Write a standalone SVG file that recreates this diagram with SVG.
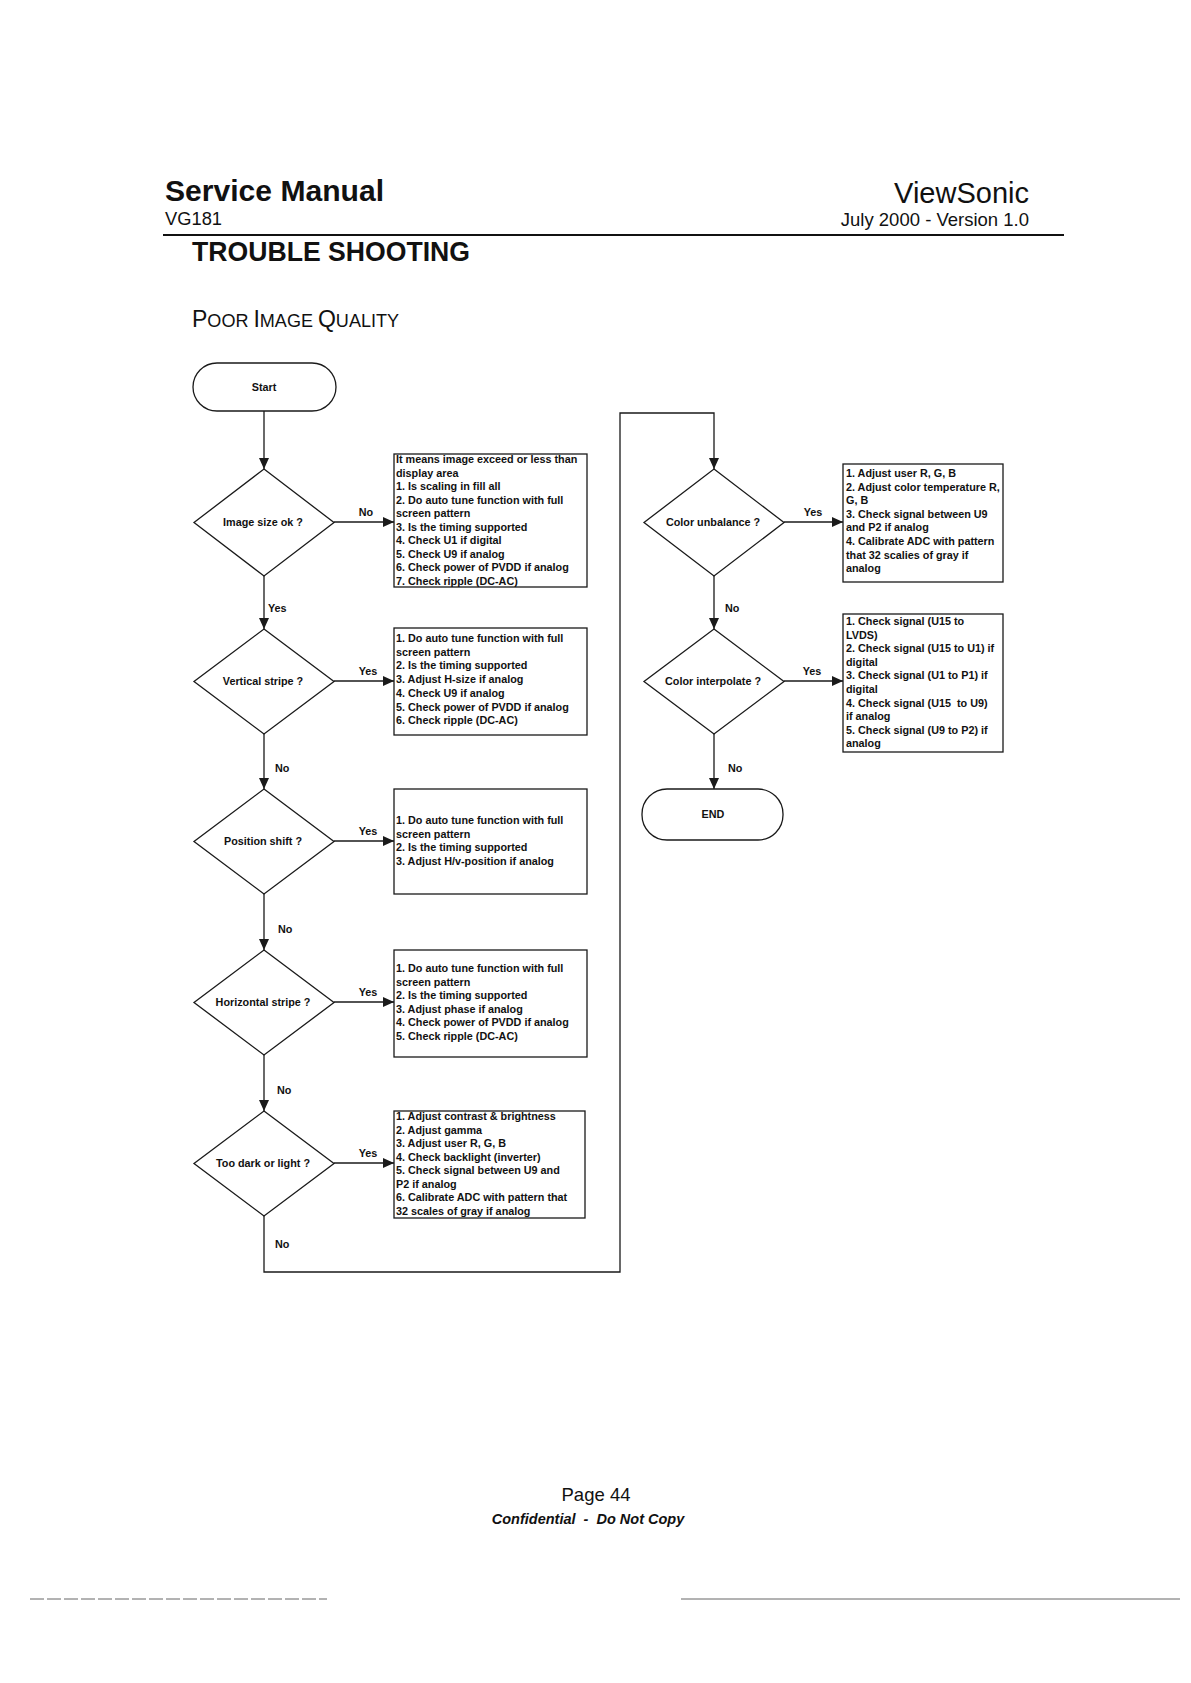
<svg xmlns="http://www.w3.org/2000/svg" width="1191" height="1683" viewBox="0 0 1191 1683">
<style>
.bg{fill:#ffffff}
.ln{fill:none;stroke:#1a1a1a;stroke-width:1.3}
.shape{fill:#ffffff;stroke:#1a1a1a;stroke-width:1.3}
.box{fill:#ffffff;stroke:#1a1a1a;stroke-width:1.3}
.t{font-family:"Liberation Sans",Arial,sans-serif;font-weight:bold;font-size:10.8px;fill:#111}
.c{text-anchor:middle}
.lbl{font-family:"Liberation Sans",Arial,sans-serif;font-weight:bold;font-size:10.8px;fill:#111}
.hdr{font-family:"Liberation Sans",Arial,sans-serif;fill:#111}
</style>
<defs>
<marker id="ah" markerUnits="userSpaceOnUse" markerWidth="12" markerHeight="10" refX="11" refY="5" orient="auto">
<path d="M0,0 L11,5 L0,10 z" fill="#1a1a1a"/>
</marker>
</defs>
<rect class="bg" x="0" y="0" width="1191" height="1683"/>

<g id="header">
<text class="hdr" x="165" y="201" font-size="30" font-weight="bold" textLength="219" lengthAdjust="spacingAndGlyphs">Service Manual</text>
<text class="hdr" x="165" y="225" font-size="18" textLength="57" lengthAdjust="spacingAndGlyphs">VG181</text>
<text class="hdr" x="1029" y="203" font-size="29" text-anchor="end">ViewSonic</text>
<text class="hdr" x="1029" y="226" font-size="18.5" text-anchor="end">July 2000 - Version 1.0</text>
<line x1="163" y1="235" x2="1064" y2="235" stroke="#111" stroke-width="2"/>
<text class="hdr" x="192" y="261" font-size="28" font-weight="bold" textLength="278" lengthAdjust="spacingAndGlyphs">TROUBLE SHOOTING</text>
<text class="hdr" x="192" y="327" font-size="18" textLength="207" lengthAdjust="spacingAndGlyphs"><tspan font-size="23">P</tspan>OOR <tspan font-size="23">I</tspan>MAGE <tspan font-size="23">Q</tspan>UALITY</text>
</g>

<g id="connectors">
<line class="ln" x1="264" y1="411" x2="264" y2="469" marker-end="url(#ah)"/>
<line class="ln" x1="264" y1="576" x2="264" y2="629" marker-end="url(#ah)"/>
<line class="ln" x1="264" y1="734" x2="264" y2="789" marker-end="url(#ah)"/>
<line class="ln" x1="264" y1="894" x2="264" y2="950" marker-end="url(#ah)"/>
<line class="ln" x1="264" y1="1055" x2="264" y2="1111" marker-end="url(#ah)"/>
<polyline class="ln" points="264,1216 264,1272 620,1272 620,413 714,413 714,469" marker-end="url(#ah)"/>
<line class="ln" x1="714" y1="576" x2="714" y2="629" marker-end="url(#ah)"/>
<line class="ln" x1="714" y1="734" x2="714" y2="789" marker-end="url(#ah)"/>
<line class="ln" x1="334" y1="522" x2="394" y2="522" marker-end="url(#ah)"/>
<line class="ln" x1="334" y1="681" x2="394" y2="681" marker-end="url(#ah)"/>
<line class="ln" x1="334" y1="841" x2="394" y2="841" marker-end="url(#ah)"/>
<line class="ln" x1="334" y1="1002" x2="394" y2="1002" marker-end="url(#ah)"/>
<line class="ln" x1="334" y1="1163" x2="394" y2="1163" marker-end="url(#ah)"/>
<line class="ln" x1="784" y1="522" x2="843" y2="522" marker-end="url(#ah)"/>
<line class="ln" x1="784" y1="681" x2="843" y2="681" marker-end="url(#ah)"/>
<text class="lbl" x="366" y="516" text-anchor="middle">No</text>
<text class="lbl" x="368" y="675" text-anchor="middle">Yes</text>
<text class="lbl" x="368" y="835" text-anchor="middle">Yes</text>
<text class="lbl" x="368" y="996" text-anchor="middle">Yes</text>
<text class="lbl" x="368" y="1157" text-anchor="middle">Yes</text>
<text class="lbl" x="813" y="516" text-anchor="middle">Yes</text>
<text class="lbl" x="812" y="675" text-anchor="middle">Yes</text>
<text class="lbl" x="268" y="612">Yes</text>
<text class="lbl" x="275" y="772">No</text>
<text class="lbl" x="278" y="933">No</text>
<text class="lbl" x="277" y="1094">No</text>
<text class="lbl" x="275" y="1248">No</text>
<text class="lbl" x="725" y="612">No</text>
<text class="lbl" x="728" y="772">No</text>
</g>

<g id="start">
<rect class="shape" x="193" y="363" width="143" height="48" rx="24" ry="24"/>
<text class="t c" x="264" y="391">Start</text>
</g>

<g id="d1">
<polygon class="shape" points="264,469 334,522.5 264,576 194,522.5"/>
<text class="t c" x="263" y="526">Image size ok ?</text>
</g>
<g id="box1">
<rect class="box" x="394" y="454" width="193" height="133"/>
<text class="t" x="396" y="463">It means image exceed or less than</text>
<text class="t" x="396" y="476.5">display area</text>
<text class="t" x="396" y="490">1. Is scaling in fill all</text>
<text class="t" x="396" y="503.5">2. Do auto tune function with full</text>
<text class="t" x="396" y="517">screen pattern</text>
<text class="t" x="396" y="530.5">3. Is the timing supported</text>
<text class="t" x="396" y="544">4. Check U1 if digital</text>
<text class="t" x="396" y="557.5">5. Check U9 if analog</text>
<text class="t" x="396" y="571">6. Check power of PVDD if analog</text>
<text class="t" x="396" y="584.5">7. Check ripple (DC-AC)</text>
</g>

<g id="d2">
<polygon class="shape" points="264,629 334,681.5 264,734 194,681.5"/>
<text class="t c" x="263" y="685">Vertical stripe ?</text>
</g>
<g id="box2">
<rect class="box" x="394" y="628" width="193" height="107"/>
<text class="t" x="396" y="642">1. Do auto tune function with full</text>
<text class="t" x="396" y="655.7">screen pattern</text>
<text class="t" x="396" y="669.4">2. Is the timing supported</text>
<text class="t" x="396" y="683.1">3. Adjust H-size if analog</text>
<text class="t" x="396" y="696.8">4. Check U9 if analog</text>
<text class="t" x="396" y="710.5">5. Check power of PVDD if analog</text>
<text class="t" x="396" y="724.2">6. Check ripple (DC-AC)</text>
</g>

<g id="d3">
<polygon class="shape" points="264,789 334,841.5 264,894 194,841.5"/>
<text class="t c" x="263" y="845">Position shift ?</text>
</g>
<g id="box3">
<rect class="box" x="394" y="789" width="193" height="105"/>
<text class="t" x="396" y="824">1. Do auto tune function with full</text>
<text class="t" x="396" y="837.7">screen pattern</text>
<text class="t" x="396" y="851.4">2. Is the timing supported</text>
<text class="t" x="396" y="865.1">3. Adjust H/v-position if analog</text>
</g>

<g id="d4">
<polygon class="shape" points="264,950 334,1002.5 264,1055 194,1002.5"/>
<text class="t c" x="263" y="1006">Horizontal stripe ?</text>
</g>
<g id="box4">
<rect class="box" x="394" y="950" width="193" height="107"/>
<text class="t" x="396" y="972">1. Do auto tune function with full</text>
<text class="t" x="396" y="985.5">screen pattern</text>
<text class="t" x="396" y="999">2. Is the timing supported</text>
<text class="t" x="396" y="1012.5">3. Adjust phase if analog</text>
<text class="t" x="396" y="1026">4. Check power of PVDD if analog</text>
<text class="t" x="396" y="1039.5">5. Check ripple (DC-AC)</text>
</g>

<g id="d5">
<polygon class="shape" points="264,1111 334,1163.5 264,1216 194,1163.5"/>
<text class="t c" x="263" y="1167">Too dark or light ?</text>
</g>
<g id="box5">
<rect class="box" x="394" y="1111" width="191" height="107"/>
<text class="t" x="396" y="1120">1. Adjust contrast &amp; brightness</text>
<text class="t" x="396" y="1133.5">2. Adjust gamma</text>
<text class="t" x="396" y="1147">3. Adjust user R, G, B</text>
<text class="t" x="396" y="1160.5">4. Check backlight (inverter)</text>
<text class="t" x="396" y="1174">5. Check signal between U9 and</text>
<text class="t" x="396" y="1187.5">P2 if analog</text>
<text class="t" x="396" y="1201">6. Calibrate ADC with pattern that</text>
<text class="t" x="396" y="1214.5">32 scales of gray if analog</text>
</g>

<g id="d6">
<polygon class="shape" points="714,469 784,522.5 714,576 644,522.5"/>
<text class="t c" x="713" y="526">Color unbalance ?</text>
</g>
<g id="box6">
<rect class="box" x="843" y="464" width="160" height="118"/>
<text class="t" x="846" y="477">1. Adjust user R, G, B</text>
<text class="t" x="846" y="490.6">2. Adjust color temperature R,</text>
<text class="t" x="846" y="504.2">G, B</text>
<text class="t" x="846" y="517.8">3. Check signal between U9</text>
<text class="t" x="846" y="531.4">and P2 if analog</text>
<text class="t" x="846" y="545">4. Calibrate ADC with pattern</text>
<text class="t" x="846" y="558.6">that 32 scalies of gray if</text>
<text class="t" x="846" y="572.2">analog</text>
</g>

<g id="d7">
<polygon class="shape" points="714,629 784,681.5 714,734 644,681.5"/>
<text class="t c" x="713" y="685">Color interpolate ?</text>
</g>
<g id="box7">
<rect class="box" x="843" y="614" width="160" height="138"/>
<text class="t" x="846" y="625">1. Check signal (U15 to</text>
<text class="t" x="846" y="638.6">LVDS)</text>
<text class="t" x="846" y="652.2">2. Check signal (U15 to U1) if</text>
<text class="t" x="846" y="665.8">digital</text>
<text class="t" x="846" y="679.4">3. Check signal (U1 to P1) if</text>
<text class="t" x="846" y="693">digital</text>
<text class="t" x="846" y="706.6" xml:space="preserve">4. Check signal (U15  to U9)</text>
<text class="t" x="846" y="720.2">if analog</text>
<text class="t" x="846" y="733.8">5. Check signal (U9 to P2) if</text>
<text class="t" x="846" y="747.4">analog</text>
</g>

<g id="end">
<rect class="shape" x="642" y="789" width="141" height="51" rx="25" ry="25"/>
<text class="t c" x="713" y="818" font-size="11">END</text>
</g>

<g id="footer">
<text class="hdr" x="596" y="1501" font-size="18.5" text-anchor="middle">Page 44</text>
<text class="hdr" x="588" y="1524" font-size="14.5" font-weight="bold" font-style="italic" text-anchor="middle" xml:space="preserve">Confidential  -  Do Not Copy</text>
<line x1="30" y1="1599" x2="327" y2="1599" stroke="#666" stroke-width="1" stroke-dasharray="14 3"/>
<line x1="681" y1="1599" x2="1180" y2="1599" stroke="#666" stroke-width="1"/>
</g>
</svg>
